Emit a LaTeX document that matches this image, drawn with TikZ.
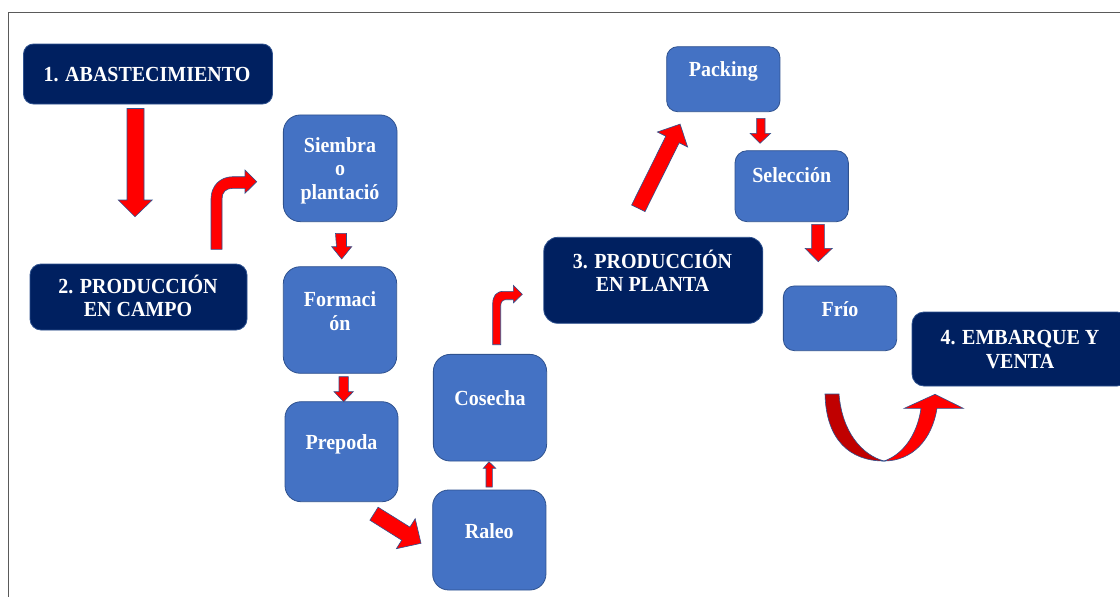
\documentclass[tikz,border=0pt]{standalone}
\usepackage{fontspec}
\setmainfont[FakeStretch=0.93]{Liberation Serif}
\definecolor{navy}{HTML}{002060}
\definecolor{boxblue}{HTML}{4472C4}
\definecolor{edgeblue}{HTML}{2F528F}
\definecolor{arrred}{HTML}{FF0000}
\definecolor{arrdark}{HTML}{C00000}
\definecolor{framegray}{HTML}{5A5A5A}
\begin{document}
\begin{tikzpicture}[x=1pt,y=-1pt,
  darkbox/.style={draw=edgeblue, line width=0.8pt, fill=navy, inner sep=0pt},
  bluebox/.style={draw=edgeblue, line width=0.8pt, fill=boxblue, inner sep=0pt},
  lbl/.style={text=white, font=\bfseries\fontsize{21.5}{23.5}\selectfont, align=center, anchor=base, inner sep=0pt},
  blockarrow/.style={fill=arrred, draw=edgeblue, line width=0.6pt, line join=miter},
  darkarrow/.style={fill=arrdark, draw=edgeblue, line width=0.6pt, line join=miter}]
\path[use as bounding box, clip] (0,0) rectangle (1120,597);
\fill[white] (0,0) rectangle (1120,597);
\draw[framegray, line width=1pt] (8.3,597) -- (8.3,12.7) -- (1120,12.7);

% main stage boxes (text anchored on the baseline of the last line)
\node[darkbox, minimum width=249, minimum height=60, rounded corners=10] (ab) at (148,74) {};
\node[lbl] (abT) at (147,81) {1. ABASTECIMIENTO};
\node[darkbox, minimum width=217, minimum height=66, rounded corners=11] (pc) at (138.5,297) {};
\node[lbl] (pcT) at (138,316.7) {2. PRODUCCIÓN\\EN CAMPO};
\node[darkbox, minimum width=219, minimum height=86, rounded corners=14] (pp) at (653.3,280.3) {};
\node[lbl] (ppT) at (652.5,291.7) {3. PRODUCCIÓN\\EN PLANTA};
\node[darkbox, minimum width=217, minimum height=74, rounded corners=12] (ev) at (1020.5,349) {};
\node[lbl] (evT) at (1020,368.3) {4. EMBARQUE Y\\VENTA};

% process boxes
\node[bluebox, minimum width=113.7, minimum height=106.7, rounded corners=17] (siembra) at (340.2,168.3) {};
\node[lbl] (siembraT) at (340,199.3) {Siembra\\o\\plantació};
\node[bluebox, minimum width=113.4, minimum height=106.6, rounded corners=17] (formacion) at (340,320) {};
\node[lbl] (formacionT) at (340,330) {Formaci\\ón};
\node[bluebox, minimum width=113, minimum height=100, rounded corners=16] (prepoda) at (341.5,451.7) {};
\node[lbl] (prepodaT) at (341.5,449.3) {Prepoda};
\node[bluebox, minimum width=113.3, minimum height=100, rounded corners=16] (raleo) at (489.3,540) {};
\node[lbl] (raleoT) at (489.3,538.3) {Raleo};
\node[bluebox, minimum width=113.3, minimum height=106.7, rounded corners=17] (cosecha) at (490,407.7) {};
\node[lbl] (cosechaT) at (490,405) {Cosecha};
\node[bluebox, minimum width=113.3, minimum height=65, rounded corners=11] (packing) at (723.3,79.2) {};
\node[lbl] (packingT) at (723.3,76.7) {Packing};
\node[bluebox, minimum width=113.3, minimum height=71, rounded corners=12] (seleccion) at (791.7,186.2) {};
\node[lbl] (seleccionT) at (791.7,182.7) {Selección};
\node[bluebox, minimum width=113.3, minimum height=64.7, rounded corners=11] (frio) at (840,318.3) {};
\node[lbl] (frioT) at (840,316) {Frío};

% block arrows
% 1 -> 2 (down)
\draw[blockarrow] (127,108.5) -- (144,108.5) -- (144,200) -- (152.3,200) -- (135,216.7) -- (118.3,200) -- (127,200) -- cycle;
% 2 -> Siembra (bent up-right)
\draw[blockarrow] (211,249.3) -- (211,199) .. controls (211,186) and (220,176.7) .. (233,176.7)
  -- (245,176.7) -- (245,170) -- (256.7,181.7) -- (245,193.3) -- (245,188.3) -- (233,188.3)
  .. controls (226,188.3) and (222,192) .. (222,199) -- (222,249.3) -- cycle;
% Siembra -> Formacion
\draw[blockarrow] (335.5,233.3) -- (346.5,233.3) -- (346.5,246.7) -- (351.7,246.7) -- (341.7,259) -- (331.7,246.7) -- (336.5,246.7) -- cycle;
% Formacion -> Prepoda
\draw[blockarrow] (339,376.7) -- (348.3,376.7) -- (348.3,391.7) -- (353.3,391.7) -- (343.7,401.7) -- (334,391.7) -- (339,391.7) -- cycle;
% Prepoda -> Raleo (diagonal)
\draw[blockarrow] (378.1,507.2) -- (409.9,527.1) -- (415.2,518.7) -- (421,543.3) -- (396.4,548.7) -- (401.7,540.2) -- (369.9,520.2) -- cycle;
% Raleo -> Cosecha (up)
\draw[blockarrow] (486,487) -- (492.3,487) -- (492.3,468.3) -- (495.7,468.3) -- (489,461.7) -- (483.3,468.3) -- (486,468.3) -- cycle;
% Cosecha -> 3 (bent up-right)
\draw[blockarrow] (492.7,344.7) -- (492.7,304) .. controls (492.7,296) and (496,291.3) .. (504,291.3)
  -- (513.3,291.3) -- (513.3,285.3) -- (522.3,294.3) -- (513.3,303) -- (513.3,299.7) -- (506,299.7)
  .. controls (502.5,299.7) and (500.7,302) .. (500.7,306) -- (500.7,344.7) -- cycle;
% 3 -> Packing (diagonal)
\draw[blockarrow] (631.6,205.0) -- (665.8,136.2) -- (657.4,132.0) -- (680.1,124.1) -- (687.6,147.0) -- (679.2,142.8) -- (645.0,211.6) -- cycle;
% Packing -> Seleccion
\draw[blockarrow] (756.7,118.3) -- (765,118.3) -- (765,133.3) -- (770.7,133.3) -- (760,143.3) -- (750,133.3) -- (756.7,133.3) -- cycle;
% Seleccion -> Frio
\draw[blockarrow] (811.7,224.3) -- (824.3,224.3) -- (824.3,248.3) -- (832.3,248.3) -- (818.3,261.7) -- (805,248.3) -- (811.7,248.3) -- cycle;
% Frio -> 4 (U-turn)
\draw[darkarrow] (825,394) -- (839,394) .. controls (842,432) and (862,455) .. (884,461)
  .. controls (850,461) and (826,440) .. (825,394) -- cycle;
\draw[blockarrow] (884,461) .. controls (912,461) and (932,440) .. (937,408.3)
  -- (963.3,408.3) -- (935,394.3) -- (904.3,408.3) -- (921,408.3)
  .. controls (917,436) and (902,455) .. (884,461) -- cycle;
\end{tikzpicture}
\end{document}
